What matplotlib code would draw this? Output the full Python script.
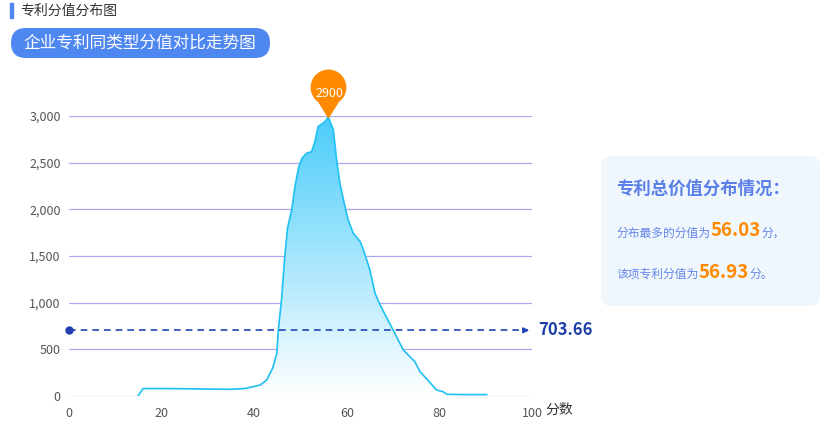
import numpy as np
import matplotlib
matplotlib.use("Agg")
import matplotlib.pyplot as plt
from matplotlib.patches import FancyBboxPatch, Rectangle
from matplotlib.path import Path

plt.rcParams['font.family'] = ['Noto Sans CJK SC', 'DejaVu Sans']

# distribution curve
score = [14.9, 16.0, 20, 25, 30, 35, 38, 41.3, 42.7, 44.0, 44.9, 45.2, 45.9, 46.6,
         47.2, 48.1, 48.8, 49.6, 50.3, 51.3, 52.4, 53.1, 53.8, 54.6, 55.3, 56.0,
         57.1, 57.8, 58.5, 59.6, 60.3, 61.4, 62.9, 63.6, 65.0, 66.1, 67.2, 70.0,
         72.2, 74.7, 75.8, 77.5, 79.4, 80.8, 81.6, 85, 90.2]
count = [0, 80, 80, 78, 74, 72, 80, 118, 171, 300, 460, 707, 1029, 1493,
         1800, 1993, 2243, 2450, 2546, 2600, 2618, 2725, 2886, 2914, 2940, 2990,
         2850, 2529, 2282, 2029, 1886, 1743, 1654, 1564, 1350, 1100, 975, 707,
         493, 368, 261, 170, 64, 46, 18, 15, 15]
peak_label = "2900"
avg_line = 703.66
x_ticks = [0, 20, 40, 60, 80, 100]
y_ticks = [0, 500, 1000, 1500, 2000, 2500, 3000]
most_score = "56.03"
this_score = "56.93"

W, H = 830, 433
fig = plt.figure(figsize=(W / 100, H / 100), dpi=100)

ax = fig.add_axes([69 / W, 1 - 396 / H, (532 - 69) / W, (396 - 116) / H])
ax.set_xlim(0, 100)
ax.set_ylim(0, 3000)

# gradient fill under the curve
peak = max(count)
grad = np.linspace(0, 1, 256).reshape(-1, 1)
top = np.array([0.29, 0.80, 0.98])
cols = np.ones((256, 1, 3)) * (1 - grad[..., None]) + top * grad[..., None]
im = ax.imshow(cols, extent=[0, 100, 0, peak], origin='lower', aspect='auto', zorder=2)
poly = ax.fill_between(score, count, 0, color='none', zorder=1)
im.set_clip_path(poly.get_paths()[0], transform=ax.transData)
ax.plot(score, count, color='#1fc0f2', lw=1.2, zorder=3)

# grid
for v in y_ticks:
    ax.axhline(v, color='#aaaaf3', lw=0.9, zorder=0.5)
for s in ax.spines.values():
    s.set_visible(False)
ax.set_xticks(x_ticks)
ax.set_yticks(y_ticks)
ax.set_yticklabels([f"{v:,}" for v in y_ticks])
ax.tick_params(length=0, labelsize=9, colors='#555555', pad=8)
ax.tick_params(axis='y', pad=6)
ax.set_ylim(0, 3000)

# average mark line
ax.plot([0, 98.8], [avg_line, avg_line], ls=(0, (4, 3)), color='#2245b5', lw=1.2, zorder=4)
ax.plot([0], [avg_line], 'o', color='#1f3fb0', ms=5, clip_on=False, zorder=5)
ax.annotate('', xy=(100, avg_line), xytext=(98, avg_line),
            arrowprops=dict(arrowstyle='-|>', color='#2245b5', lw=1.2, mutation_scale=8),
            annotation_clip=False)
ax.text(101.3, avg_line, f"{avg_line:.2f}", color='#1e3fa8', fontsize=12,
        fontweight='bold', va='center', ha='left', clip_on=False)
ax.text(103, -150, "分数", color='#333333', fontsize=10, va='center', ha='left', clip_on=False)

# pin marker at the peak
ip = int(np.argmax(count))
t = np.linspace(np.radians(-55), np.radians(235), 40)
cx, cy, r = 0, 1.75, 1.0
pts = [(0, 0)] + [(cx + r * np.cos(a), cy + r * np.sin(a)) for a in t] + [(0, 0)]
pin = Path(pts, [Path.MOVETO] + [Path.LINETO] * (len(pts) - 2) + [Path.CLOSEPOLY])
ax.plot([score[ip]], [count[ip]], marker=pin, ms=68, color='#ff8a00', mec='#ff8a00',
        clip_on=False, zorder=6)
ax.annotate(peak_label, xy=(score[ip], count[ip]), xytext=(1, 17), textcoords='offset points',
            color='white', fontsize=9, ha='center', va='center', zorder=7,
            annotation_clip=False)

# overlay in pixel coordinates for header and side panel
ov = fig.add_axes([0, 0, 1, 1], facecolor='none')
ov.set_xlim(0, W)
ov.set_ylim(H, 0)
ov.axis('off')

ov.add_patch(Rectangle((10, 3), 3, 15, color='#4f86f0'))
ov.text(20, 11, "专利分值分布图", fontsize=10, color='#333333', va='center', ha='left')

ov.add_patch(FancyBboxPatch((11, 28), 259, 30, boxstyle="round,pad=0,rounding_size=15",
                            fc='#4f87f1', ec='none'))
ov.text(140, 43, "企业专利同类型分值对比走势图", fontsize=12, color='white',
        va='center', ha='center')

ov.add_patch(FancyBboxPatch((601, 156), 219, 150, boxstyle="round,pad=0,rounding_size=10",
                            fc='#f0f7fc', ec='none'))
ov.text(616, 189, "专利总价值分布情况：", fontsize=12.5, color='#5b7fe8',
        fontweight='bold', va='center', ha='left')
ov.text(616, 233, "分布最多的分值为", fontsize=8.5, color='#6486ec', va='center', ha='left')
ov.text(711, 231, most_score, fontsize=13.5, color='#ff8a00', fontweight='bold',
        va='center', ha='left')
ov.text(761, 233, "分，", fontsize=8.5, color='#6486ec', va='center', ha='left')
ov.text(616, 274, "该项专利分值为", fontsize=8.5, color='#6486ec', va='center', ha='left')
ov.text(699, 272, this_score, fontsize=13.5, color='#ff8a00', fontweight='bold',
        va='center', ha='left')
ov.text(749, 274, "分。", fontsize=8.5, color='#6486ec', va='center', ha='left')

fig.savefig("out.png", dpi=100)
